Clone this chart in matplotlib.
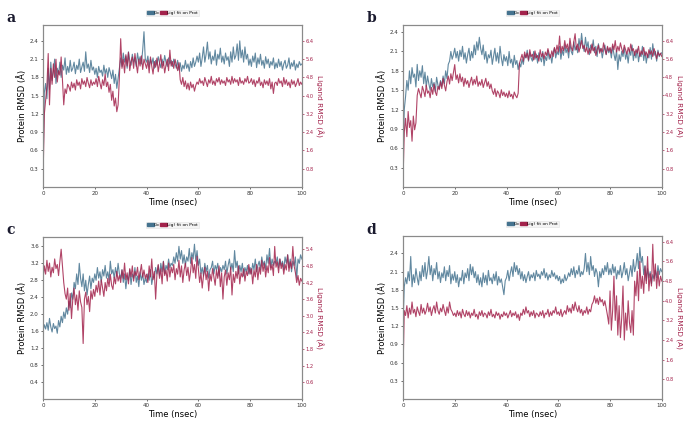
import numpy as np
import matplotlib
matplotlib.use("Agg")
import matplotlib.pyplot as plt
from matplotlib.patches import Patch

time = np.linspace(0, 100, 201)

ca_a = [
    0.25, 1.55, 1.70, 1.45, 1.95, 1.60, 2.05, 1.75, 1.90, 2.10, 1.70, 1.95, 1.85, 2.05, 1.80, 2.00, 1.92, 2.12, 1.85, 1.98,
    1.88, 2.08, 1.90, 1.95, 2.05, 1.86, 2.00, 1.93, 2.10, 1.88, 1.97, 2.05, 1.90, 2.22, 1.95, 2.02, 1.88, 2.08, 1.92, 1.97,
    1.85, 1.95, 1.80, 1.98, 1.88, 1.92, 1.82, 2.00, 1.86, 1.94, 1.80, 1.96, 1.88, 1.78, 1.92, 1.70, 1.85, 1.62, 1.78, 1.95,
    2.12, 1.98, 2.20, 2.05, 2.15, 1.95, 2.22, 2.08, 2.00, 2.18, 2.05, 2.12, 1.98, 2.20, 2.06, 2.14, 2.02, 2.25, 2.55, 2.10,
    2.05, 2.15, 1.98, 2.10, 2.02, 2.12, 1.95, 2.08, 2.00, 2.14, 2.04, 1.96, 2.10, 2.00, 2.16, 2.05, 1.98, 2.12, 2.02, 2.08,
    1.98, 2.10, 2.02, 1.95, 2.08, 1.92, 2.04, 1.90, 2.00, 1.94, 2.08, 1.95, 2.02, 1.90, 2.06, 1.96, 2.12, 1.98, 2.05, 2.15,
    2.05, 2.20, 1.98, 2.12, 2.30, 2.05, 2.18, 2.38, 2.10, 2.22, 2.02, 2.15, 2.08, 2.25, 2.00, 2.18, 2.10, 2.28, 2.05, 2.15,
    2.02, 2.20, 2.08, 2.14, 1.98, 2.22, 2.05, 2.30, 2.10, 2.16, 2.35, 2.08, 2.40, 2.12, 2.25, 2.05, 2.30, 2.10, 2.18, 2.00,
    2.10, 1.98, 2.15, 2.05, 2.20, 1.96, 2.12, 2.02, 2.18, 2.00, 2.08, 1.95, 2.14, 2.02, 2.10, 1.96, 2.06, 2.00, 2.12, 1.94,
    2.04, 1.96, 2.10, 1.98, 2.06, 1.92, 2.02, 2.08, 1.95, 2.00, 2.12, 1.94, 2.04, 1.98, 2.08, 1.92, 2.02, 1.96, 2.06, 2.00, 2.02]
lig_a = [
    0.30, 3.20, 3.80, 4.40, 5.85, 3.60, 5.20, 4.50, 5.40, 4.80, 5.60, 4.60, 5.10, 4.90, 5.70, 4.70, 3.60, 4.30, 4.10, 4.50,
    4.40, 4.20, 4.60, 4.35, 4.55, 4.25, 4.70, 4.45, 4.60, 4.30, 4.75, 4.50, 4.65, 4.40, 4.80, 4.55, 4.35, 4.70, 4.45, 4.60,
    4.50, 4.75, 4.40, 4.85, 4.55, 4.30, 4.70, 4.45, 4.95, 4.40, 4.60, 4.15, 4.50, 3.80, 4.20, 3.55, 3.90, 3.30, 3.60, 4.80,
    6.50, 5.20, 5.60, 5.00, 5.80, 5.30, 5.90, 5.10, 5.50, 5.70, 5.20, 5.85, 5.40, 5.00, 5.60, 5.30, 5.75, 5.15, 5.60, 5.40,
    5.20, 5.55, 5.00, 5.70, 5.30, 4.95, 5.50, 5.25, 5.65, 5.05, 5.40, 5.80, 5.20, 5.50, 5.00, 5.35, 5.60, 5.10, 6.00, 5.30,
    5.50, 5.20, 5.60, 5.35, 5.10, 5.45, 4.70, 4.50, 4.80, 4.40, 4.65, 4.30, 4.55, 4.25, 4.60, 4.35, 4.50, 4.20, 4.45, 4.60,
    4.50, 4.75, 4.55, 4.65, 4.45, 4.80, 4.60, 4.40, 4.70, 4.55, 4.85, 4.50, 4.65, 4.45, 4.75, 4.60, 4.80, 4.50, 4.70, 4.55,
    4.65, 4.45, 4.80, 4.60, 4.70, 4.50, 4.85, 4.55, 4.75, 4.60, 4.70, 4.45, 4.80, 4.55, 4.65, 4.50, 4.75, 4.60, 4.85, 4.55,
    4.60, 4.75, 4.50, 4.70, 4.40, 4.65, 4.55, 4.80, 4.45, 4.60, 4.35, 4.70, 4.50, 4.65, 4.45, 4.75, 4.30, 4.60, 4.10, 4.55,
    4.60, 4.45, 4.75, 4.55, 4.65, 4.40, 4.80, 4.50, 4.70, 4.45, 4.60, 4.35, 4.70, 4.50, 4.65, 4.40, 4.55, 4.75, 4.45, 4.60, 4.50]

ca_b = [
    0.40, 1.20, 1.40, 1.65, 1.50, 1.80, 1.60, 1.85, 1.70, 1.75, 1.55, 1.90, 1.65, 1.80, 1.70, 1.88, 1.60, 1.78, 1.55, 1.72,
    1.60, 1.50, 1.68, 1.55, 1.62, 1.48, 1.70, 1.58, 1.52, 1.65, 1.56, 1.72, 1.60, 1.80, 1.68, 1.90, 1.95, 2.10, 1.98, 2.05,
    2.15, 2.00, 2.10, 1.95, 2.12, 2.02, 2.18, 1.98, 2.08, 1.92, 2.05, 2.15, 1.96, 2.10, 2.00, 2.20, 2.05, 2.25, 2.12, 2.32,
    2.15, 2.05, 2.20, 1.98, 2.10, 1.92, 2.05, 2.00, 2.12, 1.90, 2.02, 2.15, 1.95, 2.08, 1.92, 2.18, 2.00, 1.88, 2.05, 1.95,
    2.02, 1.88, 2.10, 1.92, 1.98, 1.85, 2.04, 1.90, 1.96, 1.82, 1.92, 1.86, 1.98, 1.90, 2.05, 2.00, 2.12, 1.95, 2.08, 2.00,
    1.95, 2.10, 1.98, 2.06, 1.92, 2.08, 2.00, 1.94, 2.10, 1.88, 2.02, 1.96, 2.12, 1.98, 2.05, 1.92, 2.08, 2.15, 2.00, 2.10,
    2.05, 2.18, 1.98, 2.12, 2.04, 2.20, 2.08, 2.15, 2.00, 2.22, 2.10, 2.05, 2.25, 2.12, 2.18, 2.08, 2.30, 2.15, 2.38, 2.20,
    2.10, 2.32, 2.15, 2.25, 2.05, 2.20, 2.12, 2.28, 2.08, 2.18, 2.02, 2.22, 2.10, 2.15, 2.00, 2.12, 2.20, 2.05, 2.16, 2.08,
    2.14, 2.00, 2.18, 2.06, 1.96, 2.12, 1.82, 2.05, 1.95, 2.10, 2.02, 2.16, 1.98, 2.08, 1.92, 2.12, 2.04, 2.20, 1.96, 2.10,
    2.00, 2.14, 1.94, 2.08, 2.02, 2.18, 1.96, 2.10, 1.92, 2.06, 2.00, 2.16, 1.98, 2.22, 2.04, 2.10, 1.95, 2.12, 2.02, 2.06, 2.08]
lig_b = [
    0.20, 2.40, 3.00, 2.20, 3.30, 2.60, 2.90, 2.00, 3.10, 2.50, 2.80, 4.00, 4.30, 4.10, 3.90, 4.40, 4.20, 3.95, 4.45, 4.10,
    4.20, 3.90, 4.35, 4.05, 4.50, 4.15, 4.00, 4.40, 4.25, 4.60, 4.30, 4.75, 4.45, 4.20, 4.60, 4.85, 4.50, 4.95, 4.65, 5.00,
    5.35, 4.70, 4.90, 4.55, 4.95, 4.60, 4.80, 4.40, 4.75, 4.50, 4.65, 4.35, 4.60, 4.80, 4.45, 4.70, 4.50, 4.85, 4.40, 4.60,
    4.45, 4.70, 4.35, 4.55, 4.75, 4.40, 4.60, 4.30, 4.50, 4.20, 4.05, 4.30, 3.95, 4.20, 4.10, 3.90, 4.25, 4.00, 4.15, 3.95,
    4.10, 3.90, 4.20, 3.95, 4.05, 3.85, 4.15, 4.00, 3.90, 4.10, 5.40, 5.60, 5.80, 5.50, 5.90, 5.65, 5.85, 5.55, 6.00, 5.70,
    5.80, 5.55, 5.95, 5.65, 5.75, 5.50, 6.00, 5.70, 5.85, 5.60, 5.90, 5.75, 6.05, 5.80, 5.65, 5.95, 5.70, 6.10, 5.85, 6.20,
    5.90, 6.60, 5.85, 6.15, 5.95, 6.40, 6.05, 6.25, 5.90, 6.50, 6.10, 5.95, 6.35, 6.70, 6.00, 6.25, 5.90, 6.15, 6.40, 6.05,
    6.20, 5.90, 6.10, 5.80, 6.05, 5.85, 6.25, 5.95, 6.10, 5.75, 6.00, 6.20, 5.85, 6.05, 5.90, 6.30, 6.00, 5.80, 6.15, 5.95,
    6.10, 5.85, 6.25, 6.00, 6.40, 5.90, 6.15, 5.95, 6.30, 6.05, 5.85, 6.20, 6.00, 5.80, 6.10, 5.90, 6.25, 5.95, 6.05, 5.75,
    6.00, 5.85, 6.15, 5.70, 5.95, 5.80, 6.10, 5.75, 5.90, 5.65, 6.00, 5.80, 5.95, 5.70, 6.05, 5.85, 5.60, 5.90, 5.75, 5.85, 5.70]

ca_c = [
    1.60, 1.75, 1.65, 1.80, 1.62, 1.90, 1.70, 1.58, 1.78, 1.66, 1.72, 1.55, 1.85, 1.70, 1.95, 1.80, 2.05, 1.90, 2.15, 2.00,
    2.30, 2.15, 2.50, 2.35, 2.75, 2.60, 2.95, 2.70, 3.20, 2.85, 2.65, 2.95, 2.55, 2.80, 2.45, 2.70, 2.90, 2.60, 2.85, 2.75,
    2.95, 2.80, 3.10, 2.85, 3.00, 2.75, 3.05, 2.90, 3.15, 2.85, 3.00, 2.80, 3.25, 2.95, 3.05, 2.85, 3.10, 2.90, 3.20, 2.95,
    2.85, 3.05, 2.75, 2.95, 2.60, 2.90, 2.80, 3.05, 2.70, 2.95, 2.85, 3.10, 2.75, 2.90, 2.65, 3.00, 2.80, 2.95, 2.70, 2.85,
    2.75, 2.95, 2.80, 3.05, 2.70, 2.90, 2.85, 3.10, 2.95, 3.15, 2.90, 3.20, 3.00, 3.25, 2.95, 3.15, 3.05, 3.30, 3.10, 3.20,
    3.15, 3.35, 3.20, 3.45, 3.25, 3.60, 3.30, 3.50, 3.20, 3.40, 3.15, 3.35, 3.25, 3.55, 3.20, 3.45, 3.30, 3.65, 3.25, 3.50,
    3.15, 3.30, 2.95, 3.10, 2.90, 3.20, 3.00, 3.15, 2.85, 3.05, 3.10, 3.25, 2.95, 3.15, 3.05, 3.20, 2.90, 3.10, 3.00, 3.15,
    3.05, 3.25, 2.95, 3.15, 3.30, 3.05, 3.20, 3.00, 3.50, 3.10, 3.25, 2.95, 3.15, 3.00, 3.20, 2.90, 3.10, 3.00, 3.15, 2.95,
    3.10, 2.95, 3.20, 3.05, 3.30, 3.00, 3.15, 3.25, 3.05, 3.35, 3.15, 3.25, 3.05, 3.40, 3.20, 3.55, 3.10, 3.30, 3.15, 3.25,
    3.20, 3.35, 3.10, 3.30, 3.15, 3.25, 3.05, 3.35, 3.20, 3.40, 3.10, 3.30, 3.00, 3.25, 3.15, 3.35, 2.85, 3.30, 3.20, 3.40, 3.30]
lig_c = [
    4.30, 4.80, 4.50, 5.00, 4.60, 4.90, 4.40, 4.75, 4.55, 5.05, 4.70, 4.85, 4.45, 4.95, 5.40, 4.80, 4.20, 3.80, 3.60, 4.00,
    3.20, 3.80, 2.90, 3.60, 4.00, 3.40, 3.75, 3.20, 3.90, 3.50, 3.30, 2.00, 3.60, 3.85, 3.40, 3.70, 3.15, 3.90, 3.60, 3.95,
    3.70, 4.10, 3.85, 4.25, 3.75, 4.30, 4.00, 3.70, 4.20, 3.90, 4.35, 4.05, 4.50, 4.10, 3.95, 4.40, 4.15, 4.60, 4.25, 4.45,
    4.20, 4.65, 4.35, 4.90, 4.30, 4.55, 4.15, 4.70, 4.40, 4.80, 4.25, 4.60, 4.45, 4.75, 4.30, 4.55, 4.85, 4.40, 4.65, 4.35,
    4.50, 4.20, 4.80, 4.40, 5.05, 4.30, 4.60, 3.60, 4.50, 4.85, 4.35, 4.70, 4.15, 4.95, 4.45, 4.65, 4.25, 4.90, 4.40, 4.75,
    4.55, 4.85, 4.30, 4.70, 4.50, 5.00, 4.40, 4.80, 4.20, 4.65, 4.90, 4.45, 4.75, 4.25, 4.60, 5.10, 4.55, 4.85, 4.35, 5.15,
    4.70, 4.20, 4.55, 4.00, 4.45, 4.75, 4.30, 4.60, 3.90, 4.50, 4.25, 4.70, 4.40, 4.10, 4.65, 4.35, 4.80, 4.05, 4.55, 3.60,
    4.40, 4.65, 4.10, 4.55, 4.30, 4.75, 3.75, 4.50, 4.20, 4.60, 4.35, 4.80, 4.15, 4.55, 4.40, 4.70, 4.25, 4.60, 4.45, 4.85,
    4.50, 4.70, 4.15, 4.65, 4.40, 4.85, 4.30, 4.75, 4.50, 5.00, 4.60, 4.90, 4.40, 4.80, 4.55, 5.10, 4.65, 4.85, 4.45, 5.50,
    4.75, 4.95, 4.55, 5.05, 4.70, 4.90, 4.50, 4.85, 4.65, 5.20, 4.60, 4.95, 4.70, 5.50, 4.80, 4.55, 4.20, 4.45, 4.10, 4.35, 4.25]

ca_d = [
    1.20, 1.85, 2.00, 1.90, 2.10, 1.95, 2.35, 1.85, 2.05, 1.92, 2.15, 2.00, 1.88, 2.10, 1.95, 2.20, 2.02, 2.25, 1.98, 2.12,
    2.35, 2.05, 2.20, 1.95, 2.15, 2.05, 2.25, 1.98, 2.10, 1.92, 2.08, 2.00, 2.18, 1.95, 2.12, 2.02, 2.20, 1.90, 2.06, 1.96,
    2.10, 1.92, 2.05, 1.85, 2.00, 1.95, 2.12, 1.90, 2.08, 2.00, 2.15, 1.95, 2.22, 2.05, 2.18, 2.00, 2.10, 1.92, 2.05, 1.88,
    2.00, 1.85, 2.08, 1.92, 2.04, 1.88, 2.12, 1.95, 2.00, 1.90, 2.06, 1.95, 2.10, 1.88, 2.02, 1.92, 1.98, 1.85, 1.72, 1.95,
    2.00, 2.12, 1.95, 2.08, 2.18, 2.02, 2.25, 2.10, 2.20, 2.05, 2.15, 1.98, 2.10, 1.95, 2.05, 1.92, 2.02, 2.10, 1.95, 2.05,
    2.00, 2.08, 1.95, 2.12, 2.02, 2.06, 1.98, 2.10, 2.04, 2.15, 2.00, 2.08, 1.96, 2.05, 2.00, 2.12, 2.02, 2.08, 1.98, 2.04,
    1.95, 2.02, 1.90, 1.98, 1.92, 2.05, 1.95, 2.00, 2.08, 2.02, 2.15, 2.05, 2.18, 2.00, 2.12, 2.06, 2.20, 2.02, 2.10, 2.05,
    2.15, 2.40, 2.10, 2.25, 2.05, 2.35, 2.12, 2.20, 2.02, 2.15, 2.08, 1.85, 2.10, 2.00, 2.15, 2.05, 2.20, 2.10, 2.25, 2.05,
    2.15, 2.05, 2.22, 2.08, 2.18, 1.98, 2.12, 2.05, 2.20, 2.00, 2.10, 2.25, 2.05, 2.15, 1.95, 2.08, 2.20, 2.02, 2.30, 2.10,
    2.20, 2.40, 2.15, 2.50, 2.25, 2.35, 2.05, 2.20, 1.95, 2.15, 2.00, 2.10, 1.90, 2.05, 1.98, 2.12, 2.00, 2.20, 2.05, 2.15, 2.10]
lig_d = [
    1.00, 3.60, 3.40, 3.80, 3.30, 3.70, 3.45, 3.95, 3.50, 3.65, 3.35, 3.75, 3.55, 3.40, 3.85, 3.50, 3.70, 3.45, 3.60, 3.90,
    3.55, 3.75, 3.40, 3.65, 3.80, 3.50, 3.95, 3.60, 3.45, 3.70, 3.55, 3.85, 3.60, 3.40, 3.75, 3.50, 3.95, 3.65, 3.55, 3.40,
    3.50, 3.35, 3.60, 3.40, 3.55, 3.30, 3.65, 3.45, 3.35, 3.60, 3.40, 3.55, 3.30, 3.50, 3.40, 3.65, 3.35, 3.45, 3.25, 3.55,
    3.40, 3.60, 3.35, 3.50, 3.45, 3.30, 3.55, 3.40, 3.65, 3.35, 3.45, 3.30, 3.55, 3.40, 3.50, 3.25, 3.45, 3.35, 3.55, 3.40,
    3.50, 3.30, 3.45, 3.60, 3.35, 3.50, 3.40, 3.55, 3.30, 3.45, 3.20, 3.50, 3.40, 3.65, 3.45, 3.75, 3.50, 3.60, 3.35, 3.55,
    3.40, 3.60, 3.30, 3.50, 3.45, 3.35, 3.55, 3.40, 3.60, 3.30, 3.50, 3.45, 3.65, 3.35, 3.55, 3.40, 3.60, 3.50, 3.75, 3.45,
    3.55, 3.40, 3.65, 3.35, 3.50, 3.60, 3.45, 3.80, 3.55, 3.70, 3.50, 3.85, 3.60, 3.95, 3.70, 3.55, 3.80, 3.50, 3.65, 3.40,
    3.60, 3.50, 3.75, 3.45, 3.65, 3.55, 3.85, 3.95, 4.20, 3.90, 4.10, 3.85, 4.15, 3.95, 4.05, 3.80, 4.00, 3.70, 3.40, 3.05,
    4.40, 2.80, 3.60, 5.00, 3.20, 4.20, 2.60, 3.80, 2.50, 3.30, 4.60, 2.40, 3.50, 2.80, 4.00, 3.10, 2.70, 3.60, 2.60, 4.80,
    4.20, 5.20, 4.00, 5.60, 4.50, 5.00, 4.30, 5.40, 4.70, 5.80, 4.40, 5.10, 4.60, 6.30, 4.80, 5.50, 4.50, 5.20, 4.60, 5.00, 4.80]

panel_labels = ["a", "b", "c", "d"]
left_ticks = [[0.3, 0.6, 0.9, 1.2, 1.5, 1.8, 2.1, 2.4],
              [0.3, 0.6, 0.9, 1.2, 1.5, 1.8, 2.1, 2.4],
              [0.4, 0.8, 1.2, 1.6, 2.0, 2.4, 2.8, 3.2, 3.6],
              [0.3, 0.6, 0.9, 1.2, 1.5, 1.8, 2.1, 2.4]]
right_ticks = [[0.8, 1.6, 2.4, 3.2, 4.0, 4.8, 5.6, 6.4],
               [0.8, 1.6, 2.4, 3.2, 4.0, 4.8, 5.6, 6.4],
               [0.6, 1.2, 1.8, 2.4, 3.0, 3.6, 4.2, 4.8, 5.4],
               [0.8, 1.6, 2.4, 3.2, 4.0, 4.8, 5.6, 6.4]]
left_lims = [2.66, 2.51, 3.82, 2.685]
right_lims = [7.1, 7.08, 5.84, 6.63]
x_ticks = [0, 20, 40, 60, 80, 100]
legend_labels = ["C\u03b1", "Lig) fit on Prot"]

ca_series = [ca_a, ca_b, ca_c, ca_d]
lig_series = [lig_a, lig_b, lig_c, lig_d]

BLUE = "#45738f"
RED = "#a3234c"
SPINE = "#8a8a8a"

fig = plt.figure(figsize=(6.83, 4.24), dpi=100)
positions = [(0.063, 0.559, 0.379, 0.382), (0.590, 0.559, 0.379, 0.382),
             (0.063, 0.059, 0.379, 0.382), (0.590, 0.059, 0.379, 0.384)]
letter_pos = [(0.010, 0.975), (0.537, 0.975), (0.010, 0.475), (0.537, 0.475)]

for i in range(4):
    ax = fig.add_axes(positions[i])
    ax2 = ax.twinx()
    ax.plot(time, ca_series[i], color=BLUE, lw=0.8, alpha=0.85)
    ax2.plot(time, lig_series[i], color=RED, lw=0.8, alpha=0.85)
    ax.set_xlim(0, 100)
    ax.set_ylim(0, left_lims[i])
    ax2.set_ylim(0, right_lims[i])
    ax.set_xticks(x_ticks)
    ax.set_yticks(left_ticks[i])
    ax2.set_yticks(right_ticks[i])
    ax.set_yticklabels([f"{v:.1f}" for v in left_ticks[i]])
    ax2.set_yticklabels([f"{v:.1f}" for v in right_ticks[i]])
    ax.tick_params(axis="both", labelsize=4, length=1.5, width=0.5, pad=1.5,
                   colors="#333333")
    ax2.tick_params(axis="y", labelsize=3.7, length=1.5, width=0.5, pad=1.0,
                    colors=RED)
    for a in (ax, ax2):
        for s in a.spines.values():
            s.set_color(SPINE)
            s.set_linewidth(0.8)
    ax.set_xlabel("Time (nsec)", fontsize=6, labelpad=1)
    ax.set_ylabel("Protein RMSD (\u00c5)", fontsize=6, labelpad=2)
    ax2.set_ylabel("Ligand RMSD (\u00c5)", fontsize=5.3, color=RED,
                   rotation=270, va="center", ha="center")
    ax2.yaxis.set_label_coords(1.068, 0.5)
    handles = [Patch(color=BLUE), Patch(color=RED)]
    leg = ax.legend(handles, legend_labels, loc="lower center",
                    bbox_to_anchor=(0.5, 1.04), ncol=2, fontsize=3.2,
                    handlelength=1.6, handleheight=0.6, handletextpad=0.0,
                    columnspacing=0.0, borderpad=0.3, frameon=True,
                    fancybox=False)
    leg.get_frame().set_facecolor("#f2f2f2")
    leg.get_frame().set_edgecolor("#dddddd")
    leg.get_frame().set_linewidth(0.4)
    fig.text(letter_pos[i][0], letter_pos[i][1], panel_labels[i],
             fontsize=10, fontweight="bold", family="DejaVu Serif",
             color="#1a1a2e", va="top", ha="left")

fig.savefig("out.png", dpi=100)
